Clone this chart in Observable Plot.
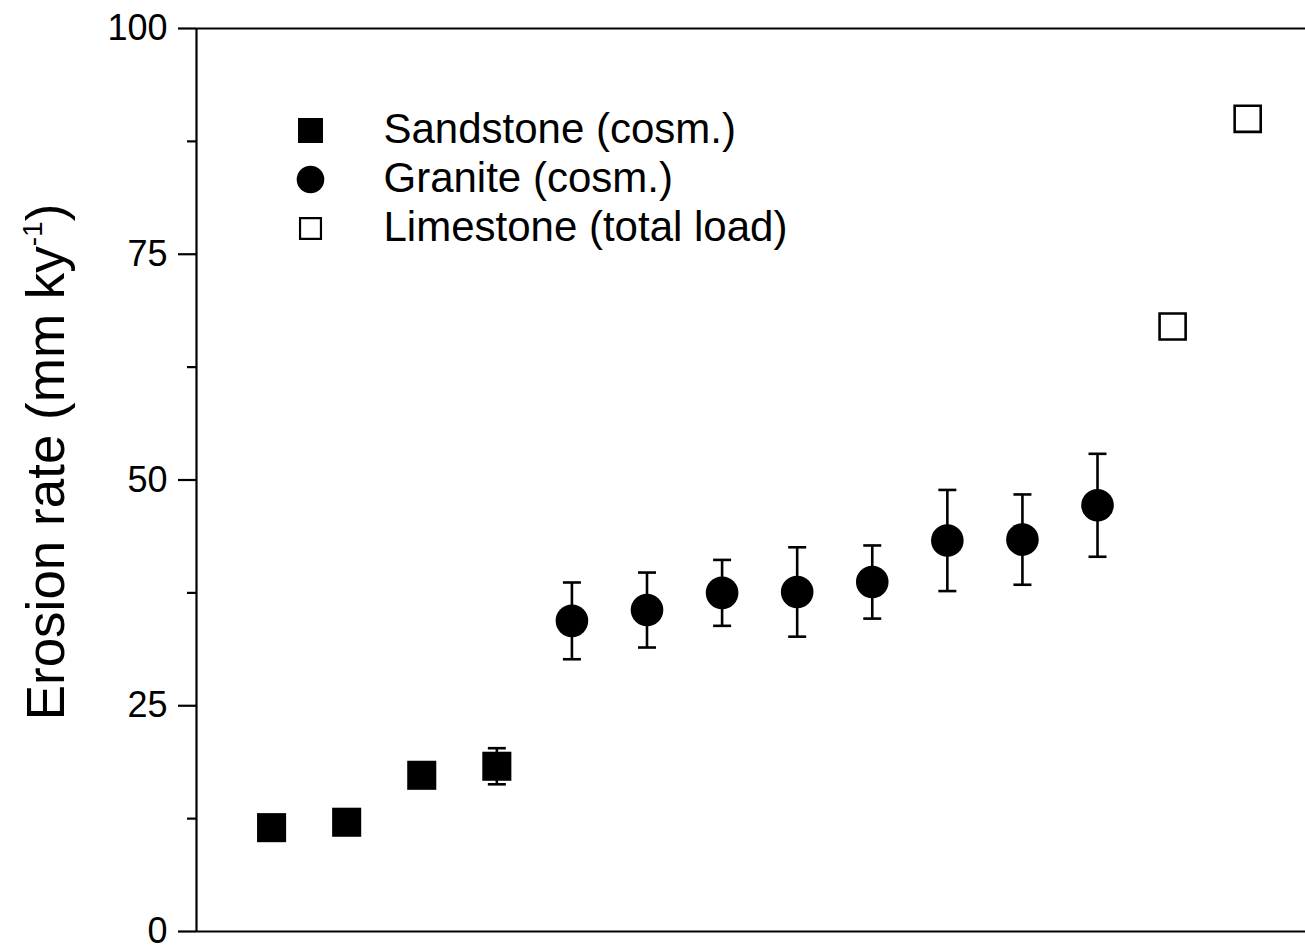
<!DOCTYPE html>
<html>
<head>
<meta charset="utf-8">
<script src="https://cdn.jsdelivr.net/npm/d3@7"></script>
<script src="https://cdn.jsdelivr.net/npm/@observablehq/plot@0.6"></script>
<style>
  html, body { margin: 0; padding: 0; background: #fff; overflow: hidden; }
  #chart svg { display: block; font-family: "Liberation Sans", Arial, sans-serif; }
</style>
</head>
<body>
<div id="chart"></div>
<script>
// ---- data ----
const sandstoneX = [1, 2, 3, 4];
const sandstoneY = [11.5, 12.1, 17.3, 18.3];
const sandstoneErr = [0, 0, 0, 2.0];

const graniteX = [5, 6, 7, 8, 9, 10, 11, 12];
const graniteY = [34.4, 35.6, 37.5, 37.6, 38.7, 43.3, 43.4, 47.2];
const graniteErr = [4.25, 4.15, 3.65, 4.95, 4.05, 5.6, 5.0, 5.7];

const limestoneX = [13, 14];
const limestoneY = [67.0, 90.0];

const yTicks = [0, 25, 50, 75, 100];
const yMinorTicks = [12.5, 37.5, 62.5, 87.5];
const legendLabels = ["Sandstone (cosm.)", "Granite (cosm.)", "Limestone (total load)"];
const yLabel = "Erosion rate (mm ky";
const yLabelSup = "-1";

// ---- build tables ----
const sandstone = sandstoneX.map((x, i) => ({x, y: sandstoneY[i], e: sandstoneErr[i]}));
const granite = graniteX.map((x, i) => ({x, y: graniteY[i], e: graniteErr[i]}));
const limestone = limestoneX.map((x, i) => ({x, y: limestoneY[i]}));
const withErr = [...sandstone, ...granite].filter(d => d.e > 0);

const capSymbol = {
  draw(ctx, size) {
    const r = Math.sqrt(size / Math.PI);
    ctx.moveTo(-r, 0);
    ctx.lineTo(r, 0);
  }
};

const legendSymbols = [
  {symbol: "square", fill: "black", stroke: "none", r: 14.1, sw: 0},
  {symbol: "circle", fill: "black", stroke: "none", r: 13.8, sw: 0},
  {symbol: "square", fill: "white", stroke: "black", r: 11.8, sw: 2.2}
];

const legendMarks = [];
legendLabels.forEach((label, i) => {
  const s = legendSymbols[i];
  legendMarks.push(Plot.dot([label], {
    frameAnchor: "top-left", dx: 114, dy: 102 + i * 49,
    symbol: s.symbol, r: s.r, fill: s.fill, stroke: s.stroke, strokeWidth: s.sw
  }));
  legendMarks.push(Plot.text([label], {
    frameAnchor: "top-left", dx: 187, dy: 101 + i * 49,
    text: d => d, textAnchor: "start", lineAnchor: "middle",
    fontSize: 42, fill: "black"
  }));
});

const chart = Plot.plot({
  width: 1305,
  height: 945,
  marginLeft: 196,
  marginRight: 0,
  marginTop: 28,
  marginBottom: 14,
  style: {fontFamily: "'Liberation Sans', Arial, sans-serif", fontSize: "36px", background: "white", color: "black"},
  x: {domain: [0, 14.77], axis: null},
  y: {domain: [0, 100], axis: null},
  marks: [
    Plot.axisY({ticks: yTicks, tickSize: 18, tickPadding: 11, strokeWidth: 2.2, fontSize: 36, label: null, anchor: "left"}),
    Plot.axisY({ticks: yMinorTicks, tickSize: 9, strokeWidth: 2.2, tickFormat: () => "", label: null, anchor: "left"}),
    Plot.ruleX([0], {strokeWidth: 2.2}),
    Plot.ruleY([0, 100], {strokeWidth: 2.2}),
    Plot.ruleX(withErr, {x: "x", y1: d => d.y - d.e, y2: d => d.y + d.e, strokeWidth: 2.6}),
    Plot.dot(withErr, {x: "x", y: d => d.y - d.e, symbol: capSymbol, r: 9, stroke: "black", strokeWidth: 2.6, fill: "none"}),
    Plot.dot(withErr, {x: "x", y: d => d.y + d.e, symbol: capSymbol, r: 9, stroke: "black", strokeWidth: 2.6, fill: "none"}),
    Plot.dot(sandstone, {x: "x", y: "y", symbol: "square", r: 16.4, fill: "black"}),
    Plot.dot(granite, {x: "x", y: "y", symbol: "circle", r: 16.3, fill: "black"}),
    Plot.dot(limestone, {x: "x", y: "y", symbol: "square", r: 14.7, fill: "white", stroke: "black", strokeWidth: 2.6}),
    ...legendMarks
  ]
});

const svg = d3.select(chart);
// thicker axis ticks, larger tick labels
svg.selectAll("g[aria-label*='tick']").each(function () {
  const label = this.getAttribute("aria-label");
  if (label.includes("label")) {
    d3.select(this).style("font-size", "36px");
    d3.select(this).selectAll("text").style("font-size", "36px");
  } else {
    d3.select(this).style("stroke-width", "2.2px");
    d3.select(this).selectAll("line, path").style("stroke-width", "2.2px");
  }
});

// y-axis title with superscript
const t = svg.append("text")
  .attr("transform", "translate(64,462) rotate(-90)")
  .attr("text-anchor", "middle")
  .attr("font-size", 53)
  .attr("fill", "black");
t.append("tspan").text(yLabel);
t.append("tspan").attr("font-size", 28).attr("dy", -22).text(yLabelSup);
t.append("tspan").attr("dy", 22).text(")");

document.getElementById("chart").appendChild(chart);
</script>
</body>
</html>
